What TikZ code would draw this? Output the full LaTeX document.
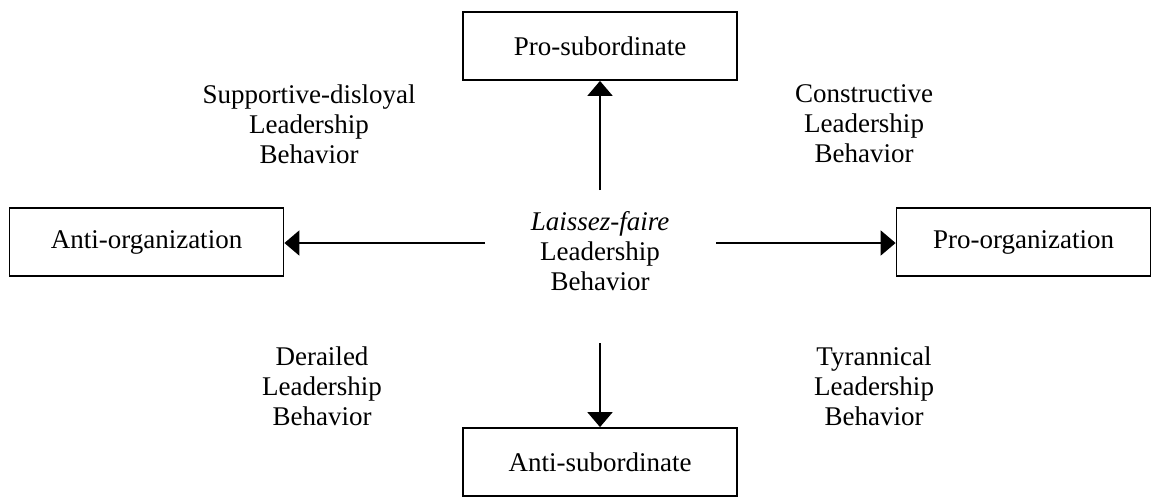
\documentclass[tikz,border=0pt]{standalone}
\usepackage{fontspec}
\setmainfont{Liberation Serif}
\usetikzlibrary{arrows.meta}

\begin{document}
\begin{tikzpicture}[x=1pt,y=-1pt,
boxnode/.style={draw=black, line width=1.8pt, minimum width=274pt, minimum height=68pt, inner sep=0pt, font=\fontsize{27}{29}\selectfont},
textnode/.style={align=center, inner sep=0pt, font=\fontsize{27}{30}\selectfont},
arrowline/.style={line width=2pt, -{Triangle[length=15pt,width=25pt]}}
]
    \useasboundingbox (0,0) rectangle (1161,499);

    \node [boxnode] (ps) at (600,46) {Pro-subordinate};
    \node [boxnode] (as) at (600,462) {Anti-subordinate};
    \node [boxnode] (ao) at (146.5,242) {Anti-organization};
    \node [boxnode,minimum width=254pt] (po) at (1023.5,242) {Pro-organization};

    \node [textnode] (lf) at (600,251) {\textit{Laissez-faire}\\Leadership\\Behavior};

    \node [textnode] (sd) at (309,124) {Supportive-disloyal\\Leadership\\Behavior};
    \node [textnode] (cb) at (864,124) {Constructive\\Leadership\\Behavior};
    \node [textnode] (dl) at (322,386) {Derailed\\Leadership\\Behavior};
    \node [textnode] (tl) at (874,386) {Tyrannical\\Leadership\\Behavior};

    \coordinate (lfu) at (600,190);
    \coordinate (lfd) at (600,343);
    \coordinate (lfl) at (485,243);
    \coordinate (lfr) at (716,243);

    \draw [arrowline] (lfu) -- (ps.south);
    \draw [arrowline] (lfd) -- (as.north);
    \draw [arrowline] (lfl) -- (lfl -| ao.east);
    \draw [arrowline] (lfr) -- (lfr -| po.west);

\end{tikzpicture}
\end{document}
